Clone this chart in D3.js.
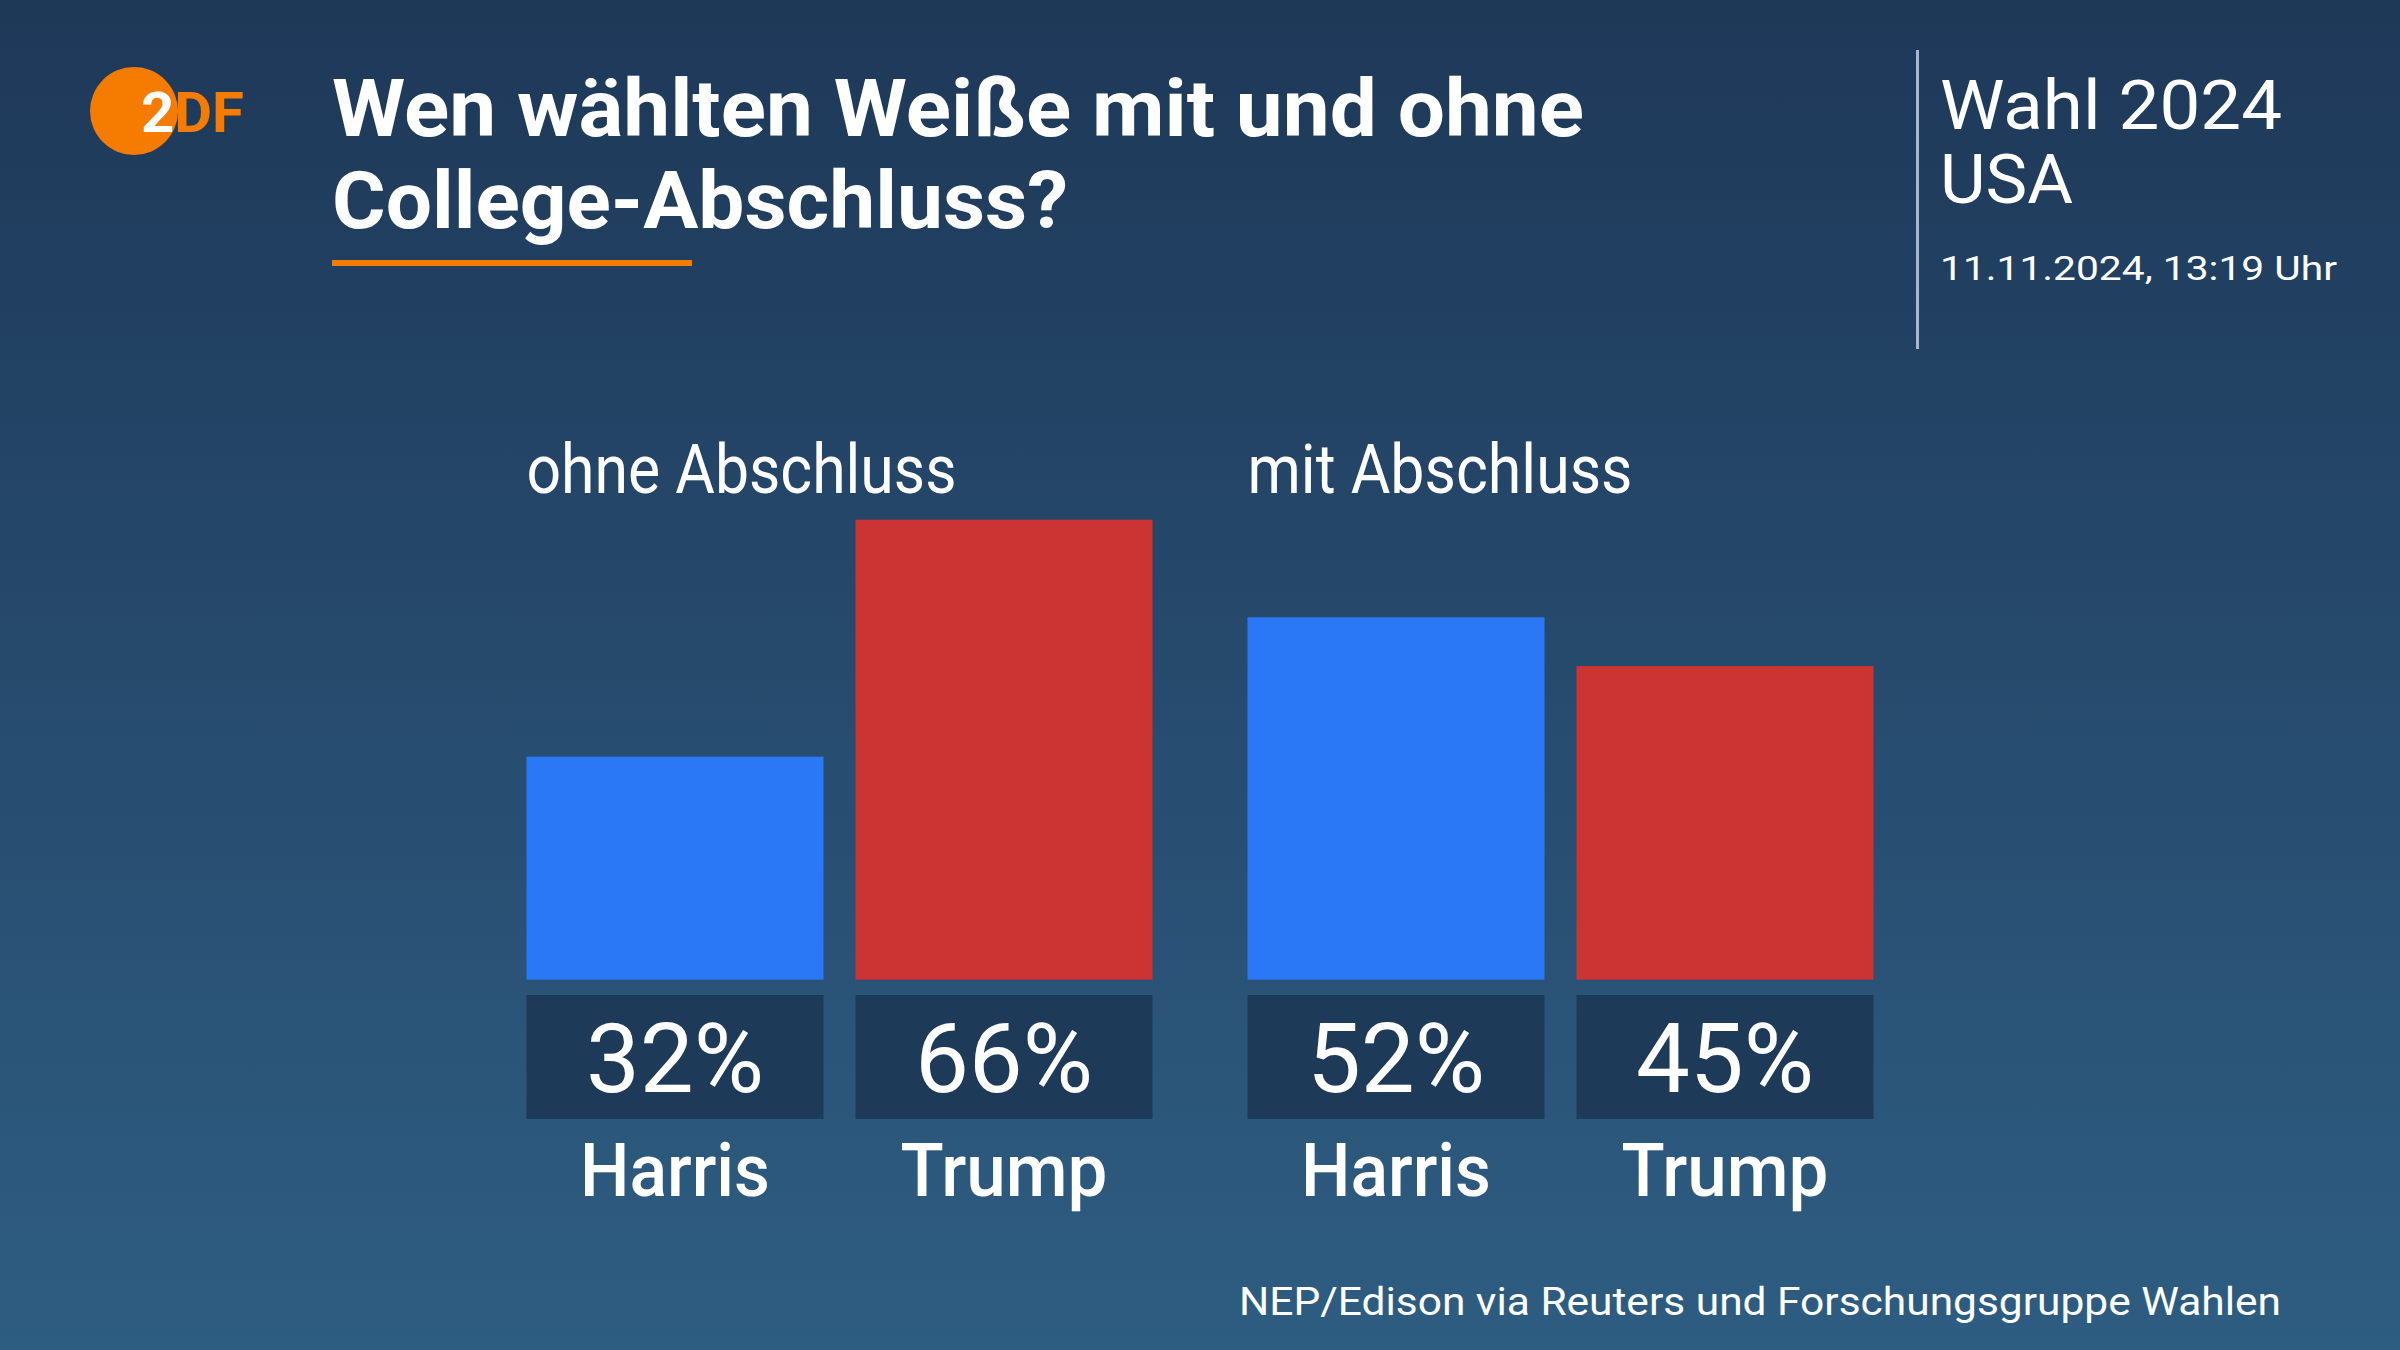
<!DOCTYPE html>
<html><head><meta charset="utf-8">
<script src="https://cdn.jsdelivr.net/npm/d3@7"></script>
<style>html,body{margin:0;padding:0;background:#1f3a5a;}svg{display:block;}</style>
</head><body>
<svg id="c" width="2400" height="1350"></svg>
<script>
const groups = ["ohne Abschluss", "mit Abschluss"];
const candidates = ["Harris", "Trump"];
const harrisValues = [32, 52];
const trumpValues = [66, 45];
const titleLines = ["Wen wählten Weiße mit und ohne", "College-Abschluss?"];
const sourceText = "NEP/Edison via Reuters und Forschungsgruppe Wahlen";

const colors = {Harris: "#2a78f6", Trump: "#cc3333"};
const svg = d3.select("#c");
const font = "Roboto, 'Noto Sans', sans-serif";

// background gradient
const defs = svg.append("defs");
const lg = defs.append("linearGradient").attr("id","bg").attr("x1",0).attr("y1",0).attr("x2",0).attr("y2",1);
lg.append("stop").attr("offset","0%").attr("stop-color","#1e3858");
lg.append("stop").attr("offset","100%").attr("stop-color","#2e5d82");
svg.append("rect").attr("width",2400).attr("height",1350).attr("fill","url(#bg)");

// logo
defs.append("clipPath").attr("id","logoClip").append("circle").attr("cx",134).attr("cy",111).attr("r",44);
svg.append("circle").attr("cx",134).attr("cy",111).attr("r",44).attr("fill","#f57c00");
svg.append("text").attr("x",141).attr("y",132).attr("font-family",font).attr("font-weight",700)
  .attr("font-size",56).attr("fill","#f57c00").attr("textLength",103).attr("lengthAdjust","spacingAndGlyphs").text("2DF");
svg.append("text").attr("x",141).attr("y",132).attr("font-family",font).attr("font-weight",700)
  .attr("font-size",56).attr("fill","#ffffff").attr("clip-path","url(#logoClip)")
  .attr("textLength",103).attr("lengthAdjust","spacingAndGlyphs").text("2DF");

// title
const titleW = [1252, 736];
const titleY = [136, 228];
titleLines.forEach((t,i)=>{
  svg.append("text").attr("x",332).attr("y",titleY[i]).attr("font-family",font).attr("font-weight",700)
    .attr("font-size",79).attr("fill","#ffffff").attr("textLength",titleW[i]).attr("lengthAdjust","spacingAndGlyphs").text(t);
});
svg.append("rect").attr("x",332).attr("y",260).attr("width",360).attr("height",6).attr("fill","#f57c00");

// right panel
svg.append("rect").attr("x",1916).attr("y",50).attr("width",3).attr("height",299).attr("fill","#a9b8c9");
svg.append("text").attr("x",1940).attr("y",129).attr("font-family",font).attr("font-size",68).attr("fill","#fff")
  .attr("textLength",342).attr("lengthAdjust","spacingAndGlyphs").text("Wahl 2024");
svg.append("text").attr("x",1940).attr("y",203).attr("font-family",font).attr("font-size",68).attr("fill","#fff")
  .attr("textLength",133).attr("lengthAdjust","spacingAndGlyphs").text("USA");
svg.append("text").attr("x",1940).attr("y",280).attr("font-family",font).attr("font-size",33).attr("fill","#fff")
  .attr("textLength",397).attr("lengthAdjust","spacingAndGlyphs").text("11.11.2024, 13:19 Uhr");

// scales
const x0 = d3.scaleBand().domain(groups).range([526.5, 1873.5]).paddingInner(95/721).paddingOuter(0);
const x1 = d3.scaleBand().domain(candidates).range([0, x0.bandwidth()]).paddingInner(32/329).paddingOuter(0);
const y = d3.scaleLinear().domain([0, 100]).range([979.7, 282.7]);

const data = [];
groups.forEach((g,i)=>{
  data.push({group:g, cand:"Harris", value:harrisValues[i]});
  data.push({group:g, cand:"Trump", value:trumpValues[i]});
});

const labelW = {"ohne Abschluss":430, "mit Abschluss":385};
svg.selectAll(".glabel").data(groups).join("text").attr("class","glabel")
  .attr("x",d=>x0(d)).attr("y",493).attr("font-family",font).attr("font-size",68).attr("fill","#fff")
  .attr("textLength",d=>labelW[d]).attr("lengthAdjust","spacingAndGlyphs").text(d=>d);

const g = svg.append("g");
g.selectAll(".bar").data(data).join("rect").attr("class","bar")
  .attr("x",d=>x0(d.group)+x1(d.cand)).attr("width",x1.bandwidth())
  .attr("y",d=>y(d.value)).attr("height",d=>y(0)-y(d.value)).attr("fill",d=>colors[d.cand]);

g.selectAll(".vbox").data(data).join("rect").attr("class","vbox")
  .attr("x",d=>x0(d.group)+x1(d.cand)).attr("width",x1.bandwidth())
  .attr("y",995).attr("height",124).attr("fill","#1d3a59");

g.selectAll(".vtext").data(data).join("text").attr("class","vtext")
  .attr("x",d=>x0(d.group)+x1(d.cand)+x1.bandwidth()/2).attr("y",1092)
  .attr("text-anchor","middle").attr("font-family",font).attr("font-size",96).attr("fill","#fff")
  .text(d=>d.value+"%");

const nameW = {Harris:190, Trump:207};
g.selectAll(".ntext").data(data).join("text").attr("class","ntext")
  .attr("x",d=>x0(d.group)+x1(d.cand)+x1.bandwidth()/2).attr("y",1196)
  .attr("text-anchor","middle").attr("font-family",font).attr("font-weight",500).attr("font-size",75).attr("fill","#fff")
  .attr("textLength",d=>nameW[d.cand]).attr("lengthAdjust","spacingAndGlyphs")
  .text(d=>d.cand);

svg.append("text").attr("x",1239).attr("y",1315).attr("font-family",font).attr("font-size",39).attr("fill","#fff")
  .attr("textLength",1042).attr("lengthAdjust","spacingAndGlyphs").text(sourceText);
</script>
</body></html>
